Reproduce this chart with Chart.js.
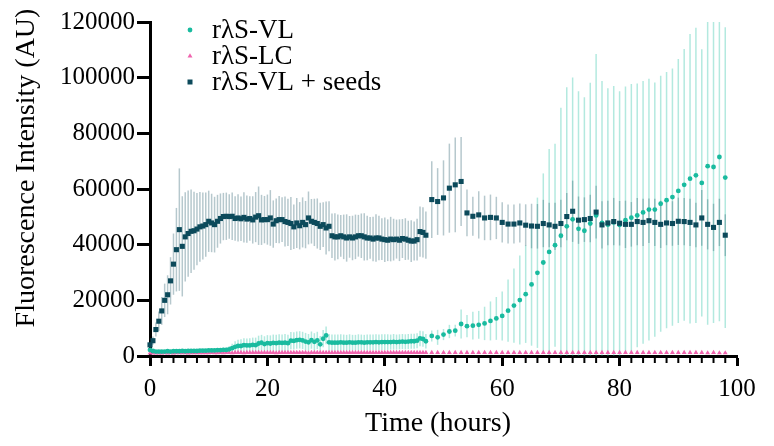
<!DOCTYPE html>
<html>
<head>
<meta charset="utf-8">
<title>Fluorescence intensity vs time</title>
<script src="https://cdn.jsdelivr.net/npm/chart.js@4.4.1/dist/chart.umd.min.js"></script>
<style>
  html, body { margin: 0; padding: 0; background: #fff; }
  #wrap { width: 774px; height: 446px; }
</style>
</head>
<body>
<div id="wrap"><canvas id="myChart"></canvas></div>
<script>
// sampling times (hours): every 30 min up to 47 h, hourly afterwards
const hours = [
  0, 0.5, 1, 1.5, 2, 2.5, 3, 3.5, 4, 4.5,
  5, 5.5, 6, 6.5, 7, 7.5, 8, 8.5, 9, 9.5,
  10, 10.5, 11, 11.5, 12, 12.5, 13, 13.5, 14, 14.5,
  15, 15.5, 16, 16.5, 17, 17.5, 18, 18.5, 19, 19.5,
  20, 20.5, 21, 21.5, 22, 22.5, 23, 23.5, 24, 24.5,
  25, 25.5, 26, 26.5, 27, 27.5, 28, 28.5, 29, 29.5,
  30, 30.5, 31, 31.5, 32, 32.5, 33, 33.5, 34, 34.5,
  35, 35.5, 36, 36.5, 37, 37.5, 38, 38.5, 39, 39.5,
  40, 40.5, 41, 41.5, 42, 42.5, 43, 43.5, 44, 44.5,
  45, 45.5, 46, 46.5, 47,
  48, 49, 50, 51, 52, 53, 54, 55, 56, 57,
  58, 59, 60, 61, 62, 63, 64, 65, 66, 67,
  68, 69, 70, 71, 72, 73, 74, 75, 76, 77,
  78, 79, 80, 81, 82, 83, 84, 85, 86, 87,
  88, 89, 90, 91, 92, 93, 94, 95, 96, 97,
  98
];

// rλS-VL mean and SD (AU)
const vlMean = [
  2200, 1800, 1600, 1600, 1600, 1600, 1700, 1600, 1700, 1700,
  1700, 1800, 1700, 1800, 1800, 1800, 1800, 1900, 1900, 1900,
  2000, 2000, 2000, 2100, 2100, 2200, 2200, 2400, 2800, 3300,
  3600, 3600, 3900, 3800, 3800, 4000, 3900, 4500, 4800, 4300,
  4600, 4500, 4700, 4600, 4800, 4700, 4800, 4600, 5500, 5400,
  5700, 5800, 5600, 5200, 4900, 5700, 5100, 5600, 4200, 6200,
  7400, 4900, 4800, 4800, 4800, 4900, 4800, 4800, 4900, 4800,
  4800, 4900, 4900, 4800, 4900, 4900, 4900, 5000, 4900, 5000,
  5000, 5000, 5000, 5100, 5000, 5100, 5200, 5100, 5200, 5300,
  5300, 5500, 6300, 6100, 5300,
  7200, 6700, 7700, 8800, 9100, 11500, 10700, 10900, 11200, 11700,
  12600, 13500, 14400, 16300, 18100, 20100, 22200, 25700, 29900, 33600,
  37400, 39800, 43200, 46600, 49100, 45700, 45000, 47600, 50500, 47800,
  47200, 48000, 47100, 48800, 49700, 50500, 51600, 52600, 52600, 54700,
  56000, 57100, 59300, 61500, 63700, 64900, 62200, 68200, 67900, 71500,
  64100
];
const vlSd = [
  500, 400, 400, 400, 400, 400, 400, 400, 400, 400,
  400, 400, 500, 500, 500, 500, 500, 500, 500, 600,
  600, 600, 600, 700, 700, 800, 900, 1200, 1600, 2000,
  2200, 2400, 2500, 2500, 2600, 2600, 2700, 2800, 2800, 2800,
  2900, 2900, 3000, 3000, 3000, 3000, 3100, 3000, 3100, 3100,
  3100, 3100, 3100, 3100, 3000, 3100, 3100, 3100, 3000, 3100,
  3200, 3000, 2900, 2900, 2900, 2900, 2900, 2800, 2900, 2800,
  2800, 2900, 2800, 2800, 2800, 2800, 2800, 2800, 2800, 2800,
  2800, 2800, 2700, 2800, 2700, 2700, 2700, 2700, 2700, 2700,
  2700, 2700, 2800, 2800, 2600,
  2000, 2700, 2000, 2400, 2100, 5200, 4000, 5000, 5000, 6000,
  7000, 7700, 8800, 11200, 13300, 16000, 17500, 22000, 27000, 32000,
  37000, 36500, 46000, 50000, 51000, 49400, 48000, 50600, 58000, 51000,
  49000, 49000, 48000, 48000, 48000, 47400, 47200, 47000, 45700, 46000,
  46000, 46200, 47400, 48800, 52000, 53000, 48000, 57000, 56000, 59000,
  54000
];

// rλS-LC mean and SD (AU)
const lcMean = [
  1000, 1000, 1000, 1000, 1000, 1100, 1000, 1100, 1000, 1100,
  1100, 1100, 1100, 1000, 1100, 1100, 1100, 1100, 1100, 1100,
  1100, 1200, 1100, 1100, 1200, 1100, 1200, 1200, 1100, 1200,
  1200, 1200, 1100, 1200, 1200, 1200, 1200, 1200, 1200, 1200,
  1200, 1200, 1200, 1100, 1200, 1200, 1200, 1200, 1200, 1200,
  1200, 1200, 1200, 1200, 1100, 1200, 1200, 1200, 1200, 1200,
  1200, 1200, 1200, 1200, 1200, 1200, 1200, 1200, 1200, 1200,
  1200, 1200, 1200, 1200, 1200, 1200, 1200, 1200, 1200, 1200,
  1200, 1200, 1200, 1200, 1200, 1200, 1200, 1200, 1200, 1200,
  1200, 1200, 1200, 1200, 1200,
  1200, 1200, 1200, 1200, 1200, 1200, 1200, 1200, 1200, 1200,
  1200, 1200, 1200, 1200, 1200, 1200, 1200, 1200, 1200, 1200,
  1200, 1200, 1200, 1200, 1200, 1200, 1200, 1200, 1200, 1200,
  1200, 1200, 1200, 1200, 1200, 1200, 1200, 1200, 1200, 1200,
  1200, 1200, 1200, 1200, 1200, 1200, 1200, 1100, 1200, 1100,
  1100
];
const lcSd = [
  300, 300, 300, 300, 300, 300, 300, 300, 300, 300,
  300, 300, 300, 300, 300, 300, 300, 300, 300, 300,
  300, 400, 300, 300, 400, 300, 400, 400, 300, 400,
  400, 400, 400, 400, 400, 400, 400, 400, 400, 400,
  400, 400, 400, 400, 400, 400, 400, 400, 400, 400,
  400, 400, 400, 400, 400, 400, 400, 400, 400, 400,
  400, 400, 400, 400, 400, 400, 400, 400, 400, 400,
  400, 400, 400, 400, 400, 400, 400, 400, 400, 400,
  400, 400, 400, 400, 400, 400, 400, 400, 400, 400,
  400, 400, 400, 400, 400,
  300, 300, 300, 300, 300, 300, 300, 300, 300, 300,
  300, 300, 300, 300, 300, 300, 300, 300, 300, 300,
  300, 300, 300, 300, 300, 300, 300, 300, 300, 300,
  300, 300, 300, 300, 300, 300, 300, 300, 300, 300,
  300, 300, 300, 300, 300, 300, 300, 300, 300, 300,
  300
];

// rλS-VL + seeds mean and SD (AU)
const seedsMean = [
  4000, 5500, 9500, 12500, 16200, 20000, 22000, 27000, 33000, 38200,
  45400, 39400, 42800, 44000, 44800, 45000, 45600, 46400, 46700, 47200,
  48400, 47800, 47200, 48400, 49400, 50100, 50200, 50100, 50200, 49400,
  49600, 49300, 49800, 49200, 49400, 48900, 49900, 50400, 48900, 49000,
  49000, 49600, 47400, 48600, 49000, 49000, 48300, 48000, 47600, 46400,
  47800, 46800, 48000, 47200, 49600, 48400, 48000, 47600, 46600, 47200,
  46000, 46600, 43200, 42800, 42800, 43200, 42800, 42400, 42800, 42400,
  42800, 43200, 43200, 42800, 42400, 42400, 42000, 42400, 42400, 42000,
  41800, 41600, 42000, 41800, 42000, 41600, 42200, 42000, 41600, 41300,
  41300, 41800, 44700, 44400, 43400,
  56200, 55500, 56800, 60300, 61500, 62700, 51400, 50200, 50700, 49600,
  49800, 49600, 48000, 47400, 47400, 47800, 47000, 46700, 46600, 47600,
  47100, 46600, 47600, 50100, 52000, 48800, 49000, 49400, 51700, 47100,
  47800, 48300, 47700, 47300, 47300, 48300, 48000, 48600, 48000, 47300,
  47800, 47600, 48400, 48300, 48000, 47100, 49600, 47300, 46200, 48000,
  43400
];
const seedsSd = [
  1000, 1500, 2500, 3500, 5000, 6000, 7000, 8500, 11000, 15000,
  22000, 18000, 16000, 15500, 15000, 14000, 13000, 12500, 12000, 11500,
  11000, 10500, 10000, 9500, 9000, 8500, 8500, 8000, 8500, 8000,
  8500, 8000, 9000, 8500, 8000, 8500, 9000, 10500, 9000, 8500,
  9000, 10000, 8500, 8000, 8500, 8000, 9000, 8500, 9500, 8000,
  9000, 8500, 9000, 8500, 9500, 8000, 8500, 9000, 8500, 8000,
  9500, 9000, 8000, 8500, 8000, 7500, 8000, 8500, 7500, 8000,
  8000, 7500, 8000, 8500, 8000, 7500, 8000, 8500, 8000, 7500,
  8000, 7500, 8000, 7500, 7000, 7500, 7000, 7500, 7000, 7500,
  7000, 7500, 9000, 9000, 8500,
  13800, 12000, 13500, 16000, 17000, 16000, 8400, 7000, 8500, 8000,
  8200, 7600, 7200, 7000, 7000, 7000, 7500, 8000, 8000, 8500,
  8000, 8500, 8500, 8500, 11000, 8500, 8000, 8500, 9500, 8500,
  8000, 8500, 8000, 8500, 8000, 8500, 8500, 8000, 8500, 8500,
  8000, 8000, 8500, 8500, 8500, 8000, 10000, 9000, 8500, 8500,
  7500
];

const seriesNames = ['rλS-VL', 'rλS-LC', 'rλS-VL + seeds'];
const xTicks = [0, 20, 40, 60, 80, 100];
const yTicks = [0, 20000, 40000, 60000, 80000, 100000, 120000];

const toPoints = (ys) => hours.map((h, i) => ({ x: h, y: ys[i] }));

// draws a marker shape (used for the legend)
function marker(ctx, style, x, y, color) {
  ctx.fillStyle = color;
  ctx.beginPath();
  if (style === 'circle') {
    ctx.arc(x, y, 2.4, 0, Math.PI * 2);
  } else if (style === 'triangle') {
    ctx.moveTo(x, y - 2.8);
    ctx.lineTo(x + 2.5, y + 1.6);
    ctx.lineTo(x - 2.5, y + 1.6);
    ctx.closePath();
  } else {
    ctx.rect(x - 2.5, y - 2.5, 5, 5);
  }
  ctx.fill();
}

// vertical SD bars, drawn under the markers
const errorBars = {
  id: 'errorBars',
  beforeDatasetsDraw(chart) {
    const { ctx, chartArea, scales: { x, y } } = chart;
    ctx.save();
    ctx.beginPath();
    ctx.rect(chartArea.left, chartArea.top, chartArea.right - chartArea.left, chartArea.bottom - chartArea.top);
    ctx.clip();
    ctx.lineWidth = 1.5;
    chart.data.datasets.forEach((ds) => {
      ctx.strokeStyle = ds.errorColor;
      ds.data.forEach((p, i) => {
        const px = x.getPixelForValue(p.x);
        ctx.beginPath();
        ctx.moveTo(px, y.getPixelForValue(p.y - ds.sd[i]));
        ctx.lineTo(px, y.getPixelForValue(p.y + ds.sd[i]));
        ctx.stroke();
      });
    });
    ctx.restore();
  }
};

// minor x ticks, axis titles and the legend
const decorations = {
  id: 'decorations',
  afterDraw(chart) {
    const { ctx, chartArea, scales: { x } } = chart;
    ctx.save();
    ctx.strokeStyle = '#000';
    ctx.lineWidth = 2;
    for (let v = 2; v < 100; v += 2) {
      if (v % 20 === 0) continue;
      const px = x.getPixelForValue(v);
      ctx.beginPath();
      ctx.moveTo(px, chartArea.bottom);
      ctx.lineTo(px, chartArea.bottom + 7);
      ctx.stroke();
    }

    ctx.fillStyle = '#000';
    ctx.font = '28px "Liberation Serif", "Times New Roman", serif';
    ctx.textAlign = 'center';
    ctx.textBaseline = 'middle';
    ctx.fillText('Time (hours)', 438, 424);
    ctx.save();
    ctx.translate(27, 168);
    ctx.rotate(-Math.PI / 2);
    ctx.fillText('Fluorescence Intensity (AU)', 0, 0);
    ctx.restore();

    ctx.font = '27px "Liberation Serif", "Times New Roman", serif';
    ctx.textAlign = 'left';
    chart.data.datasets.forEach((ds, i) => {
      const ly = 30 + i * 26;
      marker(ctx, ds.pointStyle, 190, ly, ds.backgroundColor);
      ctx.fillStyle = '#000';
      ctx.fillText(ds.label, 212, ly + 1);
    });
    ctx.restore();
  }
};

Chart.defaults.font.family = '"Liberation Serif", "Times New Roman", serif';
Chart.defaults.color = '#000';

const ctx = document.getElementById('myChart').getContext('2d');
const myChart = new Chart(ctx, {
  type: 'scatter',
  data: {
    datasets: [
      {
        label: seriesNames[0],
        data: toPoints(vlMean),
        sd: vlSd,
        backgroundColor: '#19bb9f',
        errorColor: 'rgba(25, 187, 159, 0.33)',
        pointStyle: 'circle',
        pointRadius: 2.4,
        order: 1,
        clip: false,
      },
      {
        label: seriesNames[1],
        data: toPoints(lcMean),
        sd: lcSd,
        backgroundColor: '#f064ae',
        errorColor: 'rgba(240, 100, 174, 0.3)',
        pointStyle: 'triangle',
        pointRadius: 2.8,
        order: 2,
        clip: false,
      },
      {
        label: seriesNames[2],
        data: toPoints(seedsMean),
        sd: seedsSd,
        backgroundColor: '#0c4a5b',
        errorColor: 'rgba(12, 74, 91, 0.3)',
        pointStyle: 'rect',
        pointRadius: 3.6,
        order: 0,
        clip: false,
      },
    ],
  },
  options: {
    responsive: true,
    maintainAspectRatio: false,
    animation: false,
    layout: { padding: { top: 22, right: 37, bottom: 0, left: 0 } },
    elements: { point: { borderWidth: 0, hoverRadius: 3 } },
    plugins: { legend: { display: false }, tooltip: { enabled: false } },
    scales: {
      x: {
        type: 'linear',
        min: 0,
        max: 100,
        afterBuildTicks: (scale) => { scale.ticks = xTicks.map((v) => ({ value: v })); },
        afterFit: (scale) => { scale.height = 90; },
        ticks: { font: { size: 25 }, padding: 8, maxRotation: 0 },
        grid: { drawOnChartArea: false, tickLength: 10, tickWidth: 3, tickColor: '#000' },
        border: { color: '#000', width: 3 },
      },
      y: {
        min: 0,
        max: 120000,
        afterBuildTicks: (scale) => { scale.ticks = yTicks.map((v) => ({ value: v })); },
        afterFit: (scale) => { scale.width = 150; },
        ticks: { font: { size: 25 }, padding: 2, callback: (v) => String(v) },
        grid: { drawOnChartArea: false, tickLength: 13, tickWidth: 3, tickColor: '#000' },
        border: { color: '#000', width: 3 },
      },
    },
  },
  plugins: [errorBars, decorations],
});
</script>
</body>
</html>
